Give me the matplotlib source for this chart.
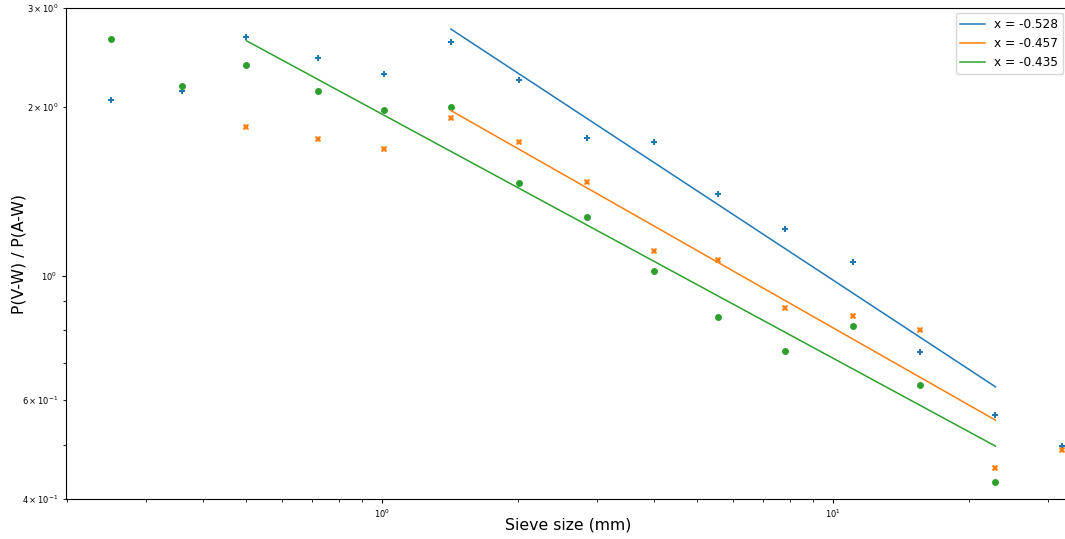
import numpy as np
import matplotlib
matplotlib.use("Agg")
import matplotlib.pyplot as plt

# Mean particle size of each sieve fraction (mm)
sieve = [0.25, 0.36, 0.5, 0.72, 1.01, 1.42, 2.01, 2.85, 4.0, 5.54, 7.83, 11.06, 15.6, 22.9, 32.2]

# Ratio P(V-W) / P(A-W) for three samples (None = no value)
ratio_a = [2.06, 2.13, 2.66, 2.44, 2.29, 2.61, 2.23, 1.76, 1.73, 1.40, 1.21, 1.06, 0.73, 0.565, 0.498]
ratio_b = [None, None, 1.84, 1.75, 1.68, 1.91, 1.73, 1.47, 1.107, 1.067, 0.875, 0.849, 0.801, 0.454, 0.489]
ratio_c = [2.64, 2.18, 2.37, 2.13, 1.97, 2.00, 1.46, 1.27, 1.018, 0.843, 0.733, 0.812, 0.639, 0.429, None]

# Power-law fits y = c * d^x
fit_exp = [-0.528, -0.457, -0.435]
fit_coef = [3.311, 2.312, 1.940]
fit_range = [(1.42, 22.9), (1.42, 22.9), (0.5, 22.9)]

colors = ["#1f77b4", "#ff7f0e", "#2ca02c"]
markers = ["P", "X", "o"]

W, H = 1065, 539
fig = plt.figure(figsize=(W / 100, H / 100), dpi=100)
ax = fig.add_axes([66 / W, 40 / H, (1070 - 66) / W, (499 - 8) / H])

sieve_arr = np.array(sieve)
for vals, c, m in zip([ratio_a, ratio_b, ratio_c], colors, markers):
    v = np.array([np.nan if x is None else x for x in vals], dtype=float)
    ax.plot(sieve_arr, v, linestyle="none", marker=m, color=c, markersize=5,
            markeredgewidth=0)

for e, k, (lo, hi), c in zip(fit_exp, fit_coef, fit_range, colors):
    d = np.array([lo, hi])
    ax.plot(d, k * d ** e, color=c, linewidth=1.1, label=f"x = {e}")

ax.set_xscale("log")
ax.set_yscale("log")
ax.set_xlim(0.199, 33.5)
ax.set_ylim(0.4, 3.0)

ax.tick_params(which="both", labelsize=6)
ax.tick_params(which="major", length=3)
ax.tick_params(which="minor", length=2)

ax.set_xlabel("Sieve size (mm)", fontsize=11.3, labelpad=-2)
ax.set_ylabel("P(V-W) / P(A-W)", fontsize=11.3, labelpad=-3)
ax.legend(loc="upper right", fontsize=8.7, borderaxespad=0,
          bbox_to_anchor=(1063 / W, (H - 13) / H), bbox_transform=fig.transFigure)

fig.savefig("out.png", dpi=100)
